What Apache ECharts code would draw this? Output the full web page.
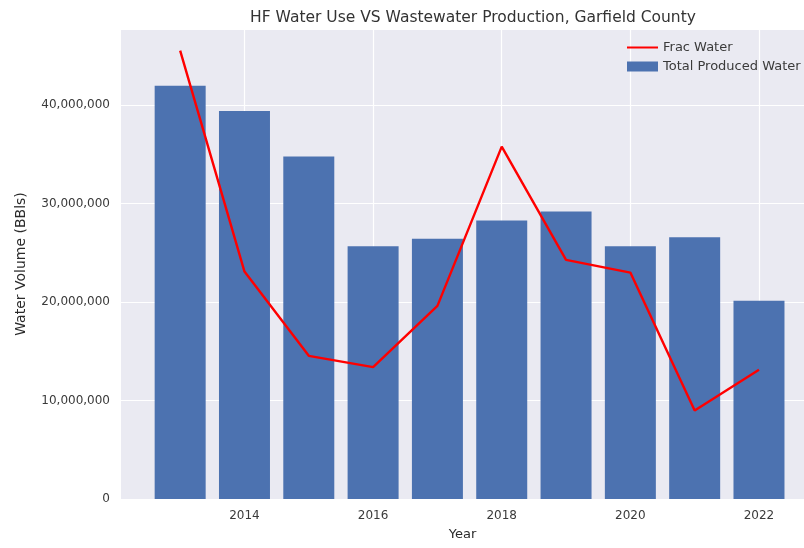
<!DOCTYPE html>
<html>
<head>
<meta charset="UTF-8">
<script src="https://cdn.jsdelivr.net/npm/echarts@6/dist/echarts.min.js"></script>
<title>HF Water Use VS Wastewater Production</title>
<style>
  html, body { margin: 0; padding: 0; background: #fff; }
</style>
</head>
<body>
<div id="main" style="width: 804px; height: 548px;"></div>
<script type="text/javascript">
// data
var years = [2013, 2014, 2015, 2016, 2017, 2018, 2019, 2020, 2021, 2022];
var producedWater = [41950000, 39380000, 34750000, 25660000, 26400000, 28260000, 29170000, 25660000, 26570000, 20110000];
var fracWater = [45500000, 23080000, 14530000, 13390000, 19600000, 35760000, 24270000, 22980000, 8990000, 13120000];
var xTickYears = [2014, 2016, 2018, 2020, 2022];

var font = 'DejaVu Sans';
var textColor = '#3a3a3a';

function pairs(vals) {
  return years.map(function (y, i) { return [y, vals[i]]; });
}

var myChart = echarts.init(document.getElementById('main'));

var option = {
  backgroundColor: '#ffffff',
  animation: false,
  title: {
    text: 'HF Water Use VS Wastewater Production, Garfield County',
    left: 468, top: 5, textAlign: 'center',
    textStyle: { fontFamily: font, fontSize: 15.5, fontWeight: 'normal', color: '#333333' }
  },
  legend: {
    orient: 'vertical',
    left: 621, top: 36,
    itemWidth: 31, itemHeight: 10, itemGap: 6,
    textStyle: { fontFamily: font, fontSize: 13, color: textColor },
    data: [
      { name: 'Frac Water', itemStyle: { opacity: 0 } },
      { name: 'Total Produced Water', icon: 'rect' }
    ]
  },
  grid: { left: 121, right: 0, top: 29, bottom: 49, show: true, backgroundColor: '#eaeaf2', borderWidth: 0 },
  xAxis: {
    type: 'value',
    min: 2012.08, max: 2022.7,
    name: 'Year', nameLocation: 'middle', nameGap: 29,
    nameTextStyle: { fontFamily: font, fontSize: 13, color: '#2a2a2a' },
    axisLine: { show: false },
    axisTick: { show: false, customValues: xTickYears },
    axisLabel: {
      customValues: xTickYears, margin: 11, fontFamily: font, fontSize: 12, color: textColor,
      formatter: function (v) { return String(v); }
    },
    splitLine: { show: true, lineStyle: { color: '#ffffff', width: 1.2 } }
  },
  yAxis: {
    type: 'value',
    min: 0, max: 47700000, interval: 10000000,
    name: 'Water Volume (BBls)', nameLocation: 'middle', nameGap: 93,
    nameTextStyle: { fontFamily: font, fontSize: 14, color: '#2a2a2a' },
    axisLine: { show: false },
    axisTick: { show: false },
    axisLabel: {
      showMaxLabel: false, margin: 11, fontFamily: font, fontSize: 12, color: textColor,
      formatter: function (v) { return v.toLocaleString('en-US'); }
    },
    splitLine: { show: true, lineStyle: { color: '#ffffff', width: 1.2 } }
  },
  series: [
    {
      name: 'Total Produced Water',
      type: 'bar',
      barWidth: 51,
      itemStyle: { color: '#4c72b0' },
      data: pairs(producedWater),
      z: 2
    },
    {
      name: 'Frac Water',
      type: 'line',
      symbol: 'none',
      lineStyle: { color: '#ff0000', width: 2.4 },
      itemStyle: { color: '#ff0000' },
      data: pairs(fracWater),
      z: 3
    }
  ]
};
myChart.setOption(option);
</script>
</body>
</html>
